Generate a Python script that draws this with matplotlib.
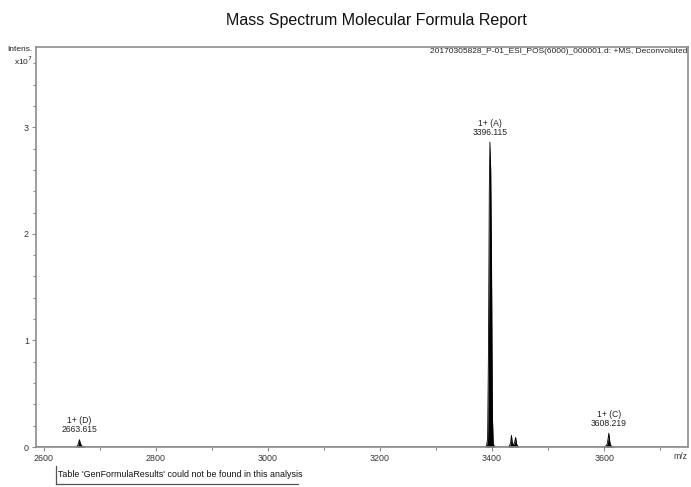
import matplotlib
matplotlib.use("Agg")
import matplotlib.pyplot as plt
from matplotlib.ticker import MultipleLocator, FixedLocator
from matplotlib.lines import Line2D

plt.rcParams["font.family"] = ["Liberation Sans", "DejaVu Sans"]

# profile of the deconvoluted spectrum (m/z, intensity in units of 1e7)
MZ = [2586, 2655, 2659, 2661, 2662.5, 2663.6, 2665, 2667, 2670, 2674,
      3387, 3390, 3392, 3393.5, 3395, 3396.1, 3397.5, 3399, 3400.5, 3402, 3405,
      3428, 3431, 3433, 3434.5, 3436, 3438, 3440, 3442, 3443.5, 3446, 3449,
      3598, 3603, 3605.5, 3607, 3608.2, 3609.5, 3611, 3614, 3618, 3750]
INTENS = [0, 0, 0.005, 0.02, 0.05, 0.07, 0.04, 0.015, 0.005, 0,
          0, 0.01, 0.08, 0.9, 2.4, 2.86, 2.6, 1.7, 0.3, 0.03, 0,
          0, 0.01, 0.04, 0.11, 0.04, 0.02, 0.04, 0.09, 0.03, 0.005, 0,
          0, 0.01, 0.03, 0.08, 0.13, 0.07, 0.02, 0.005, 0, 0]

PEAK_MZ = [3396.115, 3608.219, 2663.615]
PEAK_TOP = [2.86, 0.13, 0.07]
PEAK_LABELS = ["1+ (A)\n3396.115", "1+ (C)\n3608.219", "1+ (D)\n2663.615"]

X_TICKS = [2600, 2800, 3000, 3200, 3400, 3600]
Y_TICKS = [0, 1, 2, 3]

GRAY = "#8c8c8c"

fig = plt.figure(figsize=(6.91, 4.87), dpi=100)
ax = fig.add_axes([0.052, 0.082, 0.944, 0.821])

ax.fill_between(MZ, INTENS, 0, color="black", lw=0)
ax.plot(MZ, INTENS, color="black", lw=0.6)

for mz, top, lab in zip(PEAK_MZ, PEAK_TOP, PEAK_LABELS):
    ax.text(mz, top + 0.05, lab, ha="center", va="bottom", fontsize=6.2,
            color="#222222", linespacing=1.0)

ax.set_xlim(2586, 3750)
ax.set_ylim(0, 3.75)

ax.xaxis.set_major_locator(FixedLocator(X_TICKS))
ax.xaxis.set_minor_locator(MultipleLocator(100))
ax.yaxis.set_major_locator(FixedLocator(Y_TICKS))
ax.yaxis.set_minor_locator(MultipleLocator(0.2))
ax.tick_params(axis="both", which="major", labelsize=6.4, length=3,
               color=GRAY, labelcolor="#333333", width=0.8, pad=2)
ax.tick_params(axis="both", which="minor", length=2, color=GRAY, width=0.8)

for s in ax.spines.values():
    s.set_color(GRAY)
    s.set_linewidth(1.2)

ax.text(0.998, 0.997, "20170305828_P-01_ESI_POS(6000)_000001.d: +MS, Deconvoluted",
        transform=ax.transAxes, ha="right", va="top", fontsize=6.0, color="#222222")

fig.text(0.545, 0.958, "Mass Spectrum Molecular Formula Report", ha="center",
         va="center", fontsize=11.5, color="#111111")
fig.text(0.047, 0.898, "Intens.", ha="right", va="center", fontsize=6.0, color="#222222")
fig.text(0.047, 0.876, "x10$^7$", ha="right", va="center", fontsize=6.0, color="#222222")
fig.text(0.984, 0.072, "m/z", ha="center", va="top", fontsize=6.2, color="#333333")

fig.text(0.084, 0.016, "Table 'GenFormulaResults' could not be found in this analysis",
         ha="left", va="bottom", fontsize=6.4, color="#111111")
fig.add_artist(Line2D([0.081, 0.431], [0.006, 0.006], color="#555555", lw=0.9,
                      transform=fig.transFigure))
fig.add_artist(Line2D([0.081, 0.081], [0.006, 0.044], color="#555555", lw=0.9,
                      transform=fig.transFigure))

fig.savefig("out.png", dpi=100, facecolor="white")
